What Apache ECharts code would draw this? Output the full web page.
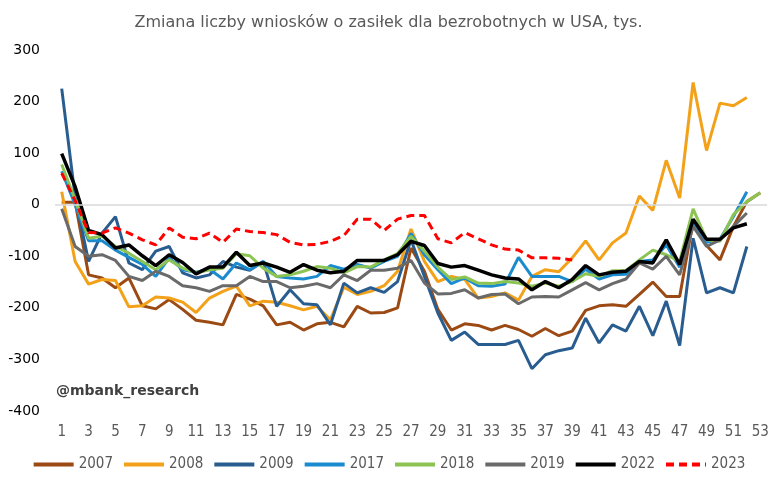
<!DOCTYPE html>
<html><head><meta charset="utf-8">
<script src="https://cdn.jsdelivr.net/npm/echarts@6/dist/echarts.min.js"></script>
<style>html,body{margin:0;padding:0;background:#fff}#c{width:777px;height:487px}</style>
</head><body><div id="c"></div>
<script>
var weeks = ['1','2','3','4','5','6','7','8','9','10','11','12','13','14','15','16','17','18','19','20','21','22','23','24','25','26','27','28','29','30','31','32','33','34','35','36','37','38','39','40','41','42','43','44','45','46','47','48','49','50','51','52','53'];
var yTicks = [-400, 300, 100];
var s2007 = [5,5,-136,-142,-161,-142,-196,-202,-184,-203,-224,-228,-233,-174,-183,-196,-233,-228,-243,-231,-228,-237,-197,-210,-209,-200,-84,-129,-203,-243,-231,-234,-243,-234,-242,-255,-240,-254,-245,-205,-196,-194,-197,-174,-150,-178,-178,-32,-79,-107,-42,6,23];
var s2008 = [25,-110,-154,-145,-147,-198,-196,-179,-181,-189,-209,-181,-168,-158,-196,-187,-189,-196,-204,-197,-223,-160,-174,-168,-157,-129,-47,-110,-149,-139,-145,-181,-178,-171,-185,-139,-126,-130,-103,-70,-107,-74,-55,17,-11,86,13,237,105,197,192,208,null];
var s2009 = [225,15,-110,-55,-23,-113,-126,-90,-81,-132,-142,-136,-110,-121,-127,-110,-197,-165,-192,-194,-233,-152,-171,-161,-170,-149,-68,-139,-210,-263,-247,-271,-271,-271,-263,-318,-291,-283,-278,-220,-268,-233,-245,-197,-254,-187,-273,-65,-171,-161,-171,-81,null];
var s2017 = [65,0,-70,-70,-88,-102,-116,-139,-103,-126,-131,-125,-144,-113,-126,-110,-139,-142,-144,-139,-118,-125,-116,-123,-110,-100,-56,-97,-126,-153,-142,-157,-158,-154,-102,-139,-139,-139,-149,-125,-144,-136,-135,-110,-107,-78,-121,-36,-73,-67,-23,25,null];
var s2018 = [78,10,-65,-61,-81,-94,-110,-126,-107,-123,-132,-126,-123,-95,-99,-123,-139,-136,-129,-120,-123,-132,-120,-121,-107,-95,-61,-90,-121,-145,-140,-152,-153,-149,-152,-158,-152,-158,-149,-134,-139,-128,-128,-107,-88,-97,-110,-8,-68,-71,-19,6,23];
var s2019 = [-8,-81,-100,-97,-108,-139,-147,-129,-139,-157,-161,-168,-157,-157,-139,-149,-149,-161,-158,-153,-161,-136,-147,-127,-127,-123,-108,-152,-173,-172,-165,-181,-174,-173,-192,-179,-178,-179,-165,-151,-165,-153,-144,-113,-125,-100,-136,-42,-81,-68,-42,-16,null];
var s2022 = [99,35,-50,-58,-84,-78,-99,-118,-97,-112,-134,-121,-121,-92,-118,-113,-121,-131,-116,-127,-132,-129,-108,-108,-108,-97,-71,-79,-114,-121,-118,-127,-136,-142,-144,-165,-149,-161,-145,-118,-136,-131,-129,-110,-113,-68,-116,-28,-67,-67,-45,-37,null];
var s2023 = [61,8,-54,-55,-45,-55,-68,-78,-45,-63,-66,-55,-73,-47,-52,-54,-58,-73,-78,-77,-71,-60,-28,-28,-50,-28,-21,-21,-66,-74,-54,-66,-78,-86,-88,-103,-103,-104,-107];
var seriesNames = ['2007','2008','2009','2017','2018','2019','2022','2023'];
var seriesData = [s2007,s2008,s2009,s2017,s2018,s2019,s2022,s2023];
var colors = ['#9c4a14','#f4a11a','#2a5d8f','#1b8bd0','#8cc454','#6a6a6a','#000000','#ff0000'];

var narrow = "'Liberation Sans Narrow','DejaVu Sans Condensed','Roboto Condensed',sans-serif";
var series = seriesNames.map(function(n,i){
  var s = {
    name:n, type:'line', data:seriesData[i], showSymbol:false, symbol:'none',
    connectNulls:false, animation:false,
    lineStyle:{color:colors[i], width:(n==='2022'?3.5:3), type:(n==='2023'?[8,5]:'solid')},
    itemStyle:{color:colors[i]}
  };
  if(i===0){
    s.markLine = {silent:true, symbol:'none', label:{show:false}, animation:false,
      lineStyle:{color:'#d9d9d9', width:1.5, type:'solid'}, data:[{yAxis:0}]};
  }
  return s;
});

var chart = echarts.init(document.getElementById('c'), null, {renderer:'canvas'});
chart.setOption({
  backgroundColor:'#fff',
  animation:false,
  title:{text:'Zmiana liczby wniosków o zasiłek dla bezrobotnych w USA, tys.', left:'center', top:10,
    textStyle:{fontFamily:'DejaVu Sans, Verdana, sans-serif', fontSize:16, fontWeight:'normal', color:'#595959'}},
  legend:{bottom:10, left:'center', itemWidth:40, itemHeight:10, itemGap:9,
    itemStyle:{color:'rgba(0,0,0,0)', borderWidth:0, opacity:0},
    lineStyle:{width:4},
    textStyle:{fontFamily:narrow, fontSize:15, color:'#595959'}, data:seriesNames},
  grid:{left:55, right:10, top:50, height:361},
  xAxis:{type:'category', data:weeks, boundaryGap:true,
    axisLine:{show:false}, axisTick:{show:false}, splitLine:{show:false},
    axisLabel:{interval:1, margin:14, fontFamily:narrow, fontSize:15, color:'#595959'}},
  yAxis:{type:'value', min:yTicks[0], max:yTicks[1], interval:yTicks[2],
    axisLine:{show:false}, axisTick:{show:false}, splitLine:{show:false},
    axisLabel:{margin:15, fontFamily:'DejaVu Sans, Verdana, sans-serif', fontSize:14, color:'#000'}},
  graphic:[{type:'text', left:56, top:384, style:{text:'@mbank_research', fontFamily:'DejaVu Sans, Verdana, sans-serif', fontSize:14, fontWeight:'bold', fill:'#404040'}}],
  series:series
});
</script></body></html>
